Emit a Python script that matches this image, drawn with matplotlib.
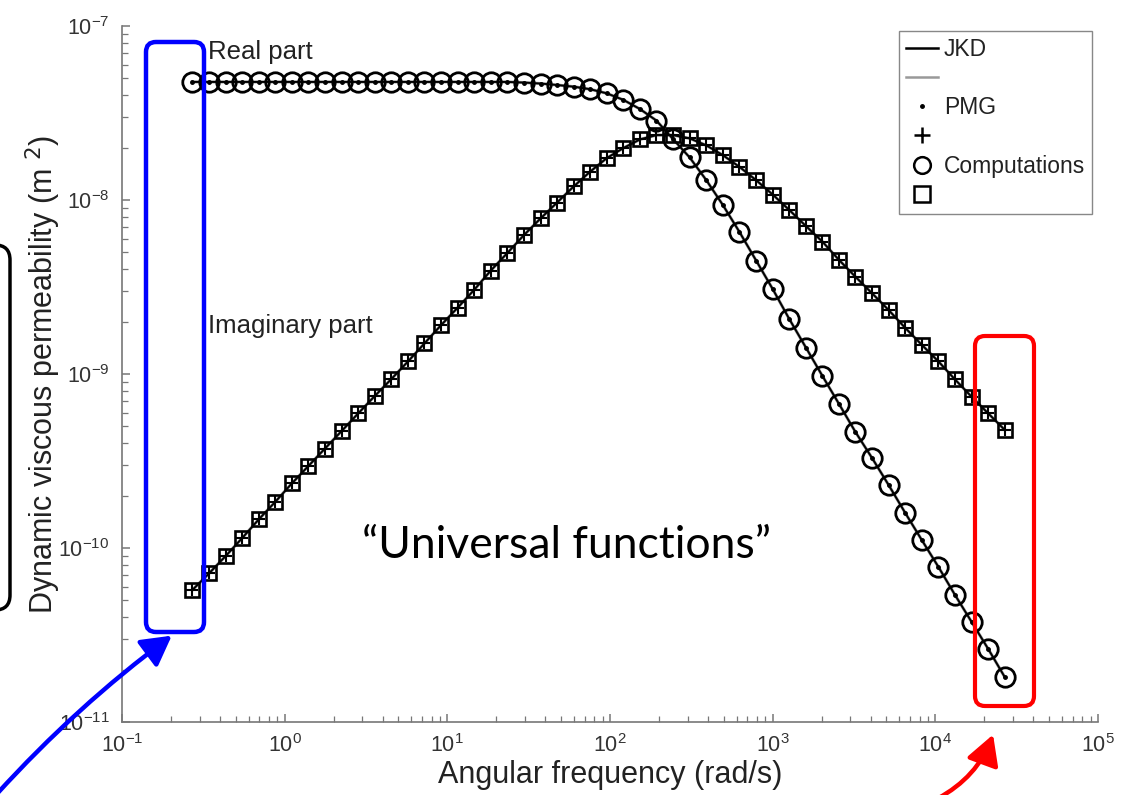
import matplotlib
matplotlib.use("Agg")
import matplotlib.pyplot as plt
from matplotlib.lines import Line2D
from matplotlib.patches import FancyBboxPatch, FancyArrowPatch

plt.rcParams['font.family'] = ['Liberation Sans', 'DejaVu Sans']

# angular frequency (rad/s)
freq = [0.271, 0.343, 0.434, 0.548, 0.693, 0.875, 1.107, 1.40, 1.77, 2.24,
        2.83, 3.58, 4.53, 5.73, 7.24, 9.16, 11.6, 14.6, 18.5, 23.4,
        29.6, 37.4, 47.3, 59.8, 75.7, 95.7, 121, 153, 193, 244,
        309, 391, 494, 625, 791, 1000, 1265, 1600, 2023, 2559,
        3228, 4083, 5164, 6531, 8260, 10450, 13210, 16710, 21130, 26730]

# real part of the permeability (m^2)
k_real = [4.77e-8, 4.77e-8, 4.77e-8, 4.77e-8, 4.77e-8, 4.77e-8, 4.77e-8, 4.77e-8, 4.77e-8, 4.77e-8,
          4.77e-8, 4.77e-8, 4.77e-8, 4.77e-8, 4.77e-8, 4.77e-8, 4.77e-8, 4.77e-8, 4.77e-8, 4.77e-8,
          4.73e-8, 4.67e-8, 4.58e-8, 4.48e-8, 4.33e-8, 4.10e-8, 3.76e-8, 3.33e-8, 2.86e-8, 2.24e-8,
          1.755e-8, 1.30e-8, 9.36e-9, 6.55e-9, 4.49e-9, 3.08e-9, 2.07e-9, 1.42e-9, 9.74e-10, 6.72e-10,
          4.64e-10, 3.29e-10, 2.30e-10, 1.59e-10, 1.11e-10, 7.78e-11, 5.37e-11, 3.76e-11, 2.63e-11, 1.81e-11]

# imaginary part of the permeability (m^2)
k_imag = [5.74e-11, 7.15e-11, 8.99e-11, 1.14e-10, 1.46e-10, 1.84e-10, 2.35e-10, 2.96e-10, 3.73e-10, 4.70e-10,
          5.93e-10, 7.47e-10, 9.36e-10, 1.18e-9, 1.50e-9, 1.91e-9, 2.41e-9, 3.04e-9, 3.93e-9, 4.96e-9,
          6.29e-9, 7.83e-9, 9.67e-9, 1.196e-8, 1.458e-8, 1.743e-8, 1.99e-8, 2.23e-8, 2.36e-8, 2.36e-8,
          2.26e-8, 2.06e-8, 1.81e-8, 1.55e-8, 1.30e-8, 1.075e-8, 8.76e-9, 7.09e-9, 5.76e-9, 4.52e-9,
          3.62e-9, 2.91e-9, 2.33e-9, 1.84e-9, 1.47e-9, 1.18e-9, 9.30e-10, 7.40e-10, 5.94e-10, 4.77e-10]

legend_labels = ['JKD', ' ', 'PMG', ' ', 'Computations', ' ']

W, H = 1124, 795
fig = plt.figure(figsize=(W / 100, H / 100), dpi=100)
ax = fig.add_axes([0.1085, 0.0918, 0.8684, 0.8755])

# model curves (grey under black)
ax.plot(freq, k_real, color='#999999', lw=2.2, zorder=1)
ax.plot(freq, k_imag, color='#999999', lw=2.2, zorder=1)
ax.plot(freq, k_real, color='black', lw=1.4, zorder=2)
ax.plot(freq, k_imag, color='black', lw=1.4, zorder=2)
# PMG points
ax.plot(freq, k_real, ls='none', marker='.', ms=5, color='black', zorder=3)
ax.plot(freq, k_imag, ls='none', marker='+', ms=9, mew=1.5, color='black', zorder=3)
# computations
ax.plot(freq, k_real, ls='none', marker='o', ms=14, mfc='none', mec='black', mew=2.0, zorder=4)
ax.plot(freq, k_imag, ls='none', marker='s', ms=10.5, mfc='none', mec='black', mew=1.9, zorder=4)

ax.set_xscale('log')
ax.set_yscale('log')
ax.set_xlim(1e-1, 1e5)
ax.set_ylim(1e-11, 1e-7)
for s in ['top', 'right']:
    ax.spines[s].set_visible(False)
for s in ['left', 'bottom']:
    ax.spines[s].set_color('#777777')
    ax.spines[s].set_linewidth(1.2)
ax.tick_params(which='both', direction='in', colors='#777777', labelcolor='#333333', labelsize=15.5)
ax.tick_params(which='major', length=6, width=1.1, pad=9)
ax.tick_params(which='minor', length=4, width=0.9)

ax.set_xlabel('Angular frequency (rad/s)', fontsize=22, color='#222222', labelpad=2)
ax.set_ylabel('Dynamic viscous permeability (m $^{2}$)', fontsize=22, color='#222222')
ax.yaxis.set_label_coords(-0.06, 0.5)

ax.annotate('Real part', xy=(208, H - 52), xycoords='figure pixels',
            fontsize=18.5, color='#222222', va='center', ha='left')
ax.annotate('Imaginary part', xy=(208, H - 326), xycoords='figure pixels',
            fontsize=18.5, color='#222222', va='center', ha='left')

handles = [Line2D([], [], color='black', lw=1.8),
           Line2D([], [], color='#999999', lw=1.8),
           Line2D([], [], ls='none', marker='.', ms=5, color='black'),
           Line2D([], [], ls='none', marker='+', ms=12, mew=1.8, color='black'),
           Line2D([], [], ls='none', marker='o', ms=12, mfc='none', mec='black', mew=1.8),
           Line2D([], [], ls='none', marker='s', ms=11, mfc='none', mec='black', mew=1.8)]
leg = ax.legend(handles, legend_labels, loc='upper right',
                bbox_to_anchor=(1092 / W, 1 - 31 / H), bbox_transform=fig.transFigure,
                fontsize=16.5, fancybox=False, framealpha=1,
                edgecolor='#888888', handlelength=1.4, handletextpad=0.26,
                labelspacing=0.27, borderpad=0.3, borderaxespad=0)
leg.get_frame().set_linewidth(1.0)
for t in leg.get_texts():
    t.set_color('#222222')

# presentation overlay, positions in inches (100 px each)
tr = fig.dpi_scale_trans
def px(x, y):
    return (x / 100.0, (H - y) / 100.0)

fig.text(566 / W, 1 - 546 / H, '\u201cUniversal functions\u201d', fontsize=32,
         family=['Lato', 'DejaVu Sans'], ha='center', va='center', color='black')

blue = FancyBboxPatch(px(146, 632), 0.58, 5.90, boxstyle='round,pad=0,rounding_size=0.1',
                      transform=tr, fill=False, ec='#0000ff', lw=3.2, zorder=10)
red = FancyBboxPatch(px(975, 706), 0.59, 3.70, boxstyle='round,pad=0,rounding_size=0.1',
                     transform=tr, fill=False, ec='#ff0000', lw=3.0, zorder=10)
black = FancyBboxPatch(px(-60, 610), 0.70, 3.65, boxstyle='round,pad=0,rounding_size=0.15',
                       transform=tr, fill=False, ec='black', lw=2.5, zorder=10)
for p in (blue, red, black):
    fig.patches.append(p)

arr_b = FancyArrowPatch(px(-5, 796), px(174, 634), transform=tr, connectionstyle='arc3,rad=-0.05',
                        arrowstyle='-|>,head_length=9,head_width=5', color='#0000ff', lw=3.2,
                        mutation_scale=2, zorder=10)
arr_r = FancyArrowPatch(px(935, 800), px(994, 732), transform=tr, connectionstyle='arc3,rad=0.2',
                        arrowstyle='-|>,head_length=9,head_width=5', color='#ff0000', lw=3.2,
                        mutation_scale=2, zorder=10)
fig.patches.append(arr_b)
fig.patches.append(arr_r)

fig.savefig('out.png', dpi=100)
